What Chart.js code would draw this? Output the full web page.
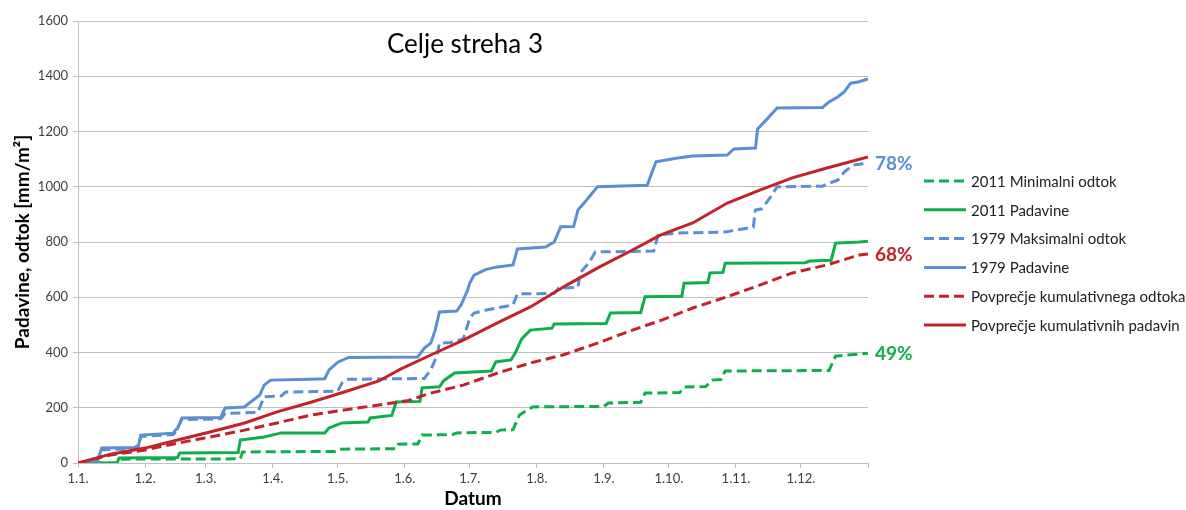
<!DOCTYPE html>
<html>
<head>
<meta charset="utf-8">
<script src="https://cdn.jsdelivr.net/npm/chart.js"></script>
<style>
  body { margin: 0; background: #fff; }
  canvas { display: block; }
</style>
</head>
<body>
<canvas id="graf" width="1186" height="510"></canvas>
<script>
// meje mesecev (dan v letu) in oznake osi x
const monthStarts = [0, 31, 59, 90, 120, 151, 181, 212, 243, 273, 304, 334, 365];
const monthLabels = ['1.1.', '1.2.', '1.3.', '1.4.', '1.5.', '1.6.', '1.7.', '1.8.', '1.9.', '1.10.', '1.11.', '1.12.', ''];
const yTicks = [0, 200, 400, 600, 800, 1000, 1200, 1400, 1600];

// 2011 Minimalni odtok
const min2011Days = [0, 19, 20, 75, 76, 119, 121, 147, 148, 157, 159, 173, 175, 193, 195, 201, 204, 210, 243, 245, 260, 262, 278, 280, 290, 293, 297, 299, 347, 350, 365];
const min2011 = [0, 0, 14, 15, 40, 42, 50, 52, 68, 69, 101, 103, 109, 111, 119, 121, 174, 203, 205, 217, 220, 253, 255, 275, 277, 300, 302, 333, 335, 387, 397];

// 2011 Padavine
const pad2011Days = [0, 18, 19, 46, 47, 74, 75, 86, 94, 114, 116, 122, 134, 135, 145, 147, 158, 159, 167, 169, 174, 191, 193, 200, 202, 205, 209, 219, 220, 244, 246, 260, 262, 279, 280, 291, 292, 298, 299, 336, 338, 348, 350, 361, 365];
const pad2011 = [0, 0, 18, 20, 36, 38, 83, 94, 109, 109, 127, 145, 148, 163, 172, 221, 223, 272, 276, 298, 326, 333, 366, 373, 398, 449, 481, 488, 503, 505, 543, 545, 602, 604, 651, 653, 688, 690, 723, 725, 731, 734, 796, 800, 803];

// 1979 Maksimalni odtok
const max1979Days = [0, 9, 11, 26, 28, 29, 44, 45, 48, 66, 68, 83, 86, 94, 96, 120, 122, 124, 160, 163, 166, 167, 172, 178, 181, 183, 190, 201, 203, 220, 222, 231, 232, 236, 239, 266, 268, 276, 299, 312, 313, 316, 320, 323, 344, 347, 351, 354, 358, 365];
const max1979 = [0, 8, 48, 52, 60, 96, 103, 112, 157, 160, 180, 183, 240, 243, 257, 260, 290, 303, 306, 337, 391, 434, 436, 449, 525, 543, 556, 572, 612, 614, 633, 636, 688, 724, 764, 767, 825, 832, 836, 854, 916, 920, 963, 1000, 1002, 1013, 1024, 1053, 1078, 1085];

// 1979 Padavine
const pad1979Days = [0, 9, 11, 26, 28, 29, 44, 45, 46, 48, 66, 67, 68, 77, 78, 81, 84, 86, 89, 107, 114, 116, 120, 125, 157, 160, 163, 165, 167, 175, 177, 180, 181, 183, 188, 193, 201, 203, 216, 220, 223, 229, 231, 235, 240, 263, 267, 277, 284, 300, 303, 313, 314, 318, 323, 344, 347, 351, 354, 357, 361, 365];
const pad1979 = [0, 10, 54, 56, 65, 101, 108, 119, 125, 163, 165, 185, 199, 203, 210, 228, 246, 282, 300, 303, 305, 337, 365, 382, 384, 416, 434, 480, 547, 550, 572, 626, 651, 680, 699, 709, 717, 775, 782, 800, 855, 856, 916, 952, 1000, 1005, 1090, 1104, 1111, 1115, 1137, 1140, 1209, 1242, 1285, 1287, 1307, 1325, 1343, 1375, 1380, 1390];

// Povprečje kumulativnega odtoka
const povOdtDays = [0, 15, 31, 46, 61, 77, 92, 108, 123, 139, 152, 163, 178, 194, 209, 224, 240, 255, 270, 284, 300, 315, 330, 346, 361, 365];
const povOdt = [0, 29, 47, 72, 94, 119, 145, 174, 192, 210, 225, 253, 282, 326, 362, 391, 434, 478, 518, 561, 602, 644, 688, 717, 753, 757];

// Povprečje kumulativnih padavin
const povPadDays = [0, 15, 31, 46, 61, 77, 92, 108, 123, 139, 149, 163, 178, 194, 209, 226, 241, 256, 269, 284, 300, 315, 330, 346, 365];
const povPad = [0, 32, 54, 83, 112, 145, 185, 221, 257, 297, 340, 391, 445, 508, 565, 645, 710, 770, 825, 869, 941, 988, 1032, 1068, 1108];

// odstotki ob koncu krivulj odtoka
const endLabels = ['49%', '78%', '68%'];

const modra = '#5a8fd3';
const zelena = '#0fae4c';
const rdeca = '#c3222b';

function tocke(dni, vrednosti) {
    return dni.map((d, i) => ({ x: d, y: vrednosti[i] }));
}

const crtkano = [10, 5];

const datasets = [
    { label: '2011 Minimalni odtok', data: tocke(min2011Days, min2011), borderColor: zelena, borderDash: crtkano, order: 6 },
    { label: '2011 Padavine', data: tocke(pad2011Days, pad2011), borderColor: zelena, borderDash: [], order: 5 },
    { label: '1979 Maksimalni odtok', data: tocke(max1979Days, max1979), borderColor: modra, borderDash: crtkano, order: 4 },
    { label: '1979 Padavine', data: tocke(pad1979Days, pad1979), borderColor: modra, borderDash: [], order: 3 },
    { label: 'Povprečje kumulativnega odtoka', data: tocke(povOdtDays, povOdt), borderColor: rdeca, borderDash: crtkano, order: 2 },
    { label: 'Povprečje kumulativnih padavin', data: tocke(povPadDays, povPad), borderColor: rdeca, borderDash: [], order: 1 }
];
datasets.forEach(ds => {
    ds.borderWidth = 3;
    ds.pointRadius = 0;
    ds.tension = 0;
    ds.fill = false;
});

// naslov, odstotki in legenda
const dodatki = {
    id: 'dodatki',
    afterDraw(chart) {
        const { ctx, chartArea, scales } = chart;
        ctx.save();

        ctx.font = '26px Lato';
        ctx.fillStyle = '#000';
        ctx.textAlign = 'center';
        ctx.textBaseline = 'alphabetic';
        ctx.fillText('Celje streha 3', chartArea.left + 387, 53);

        ctx.font = 'bold 19px Lato';
        ctx.textAlign = 'left';
        ctx.textBaseline = 'middle';
        [0, 2, 4].forEach((idx, k) => {
            const ds = chart.data.datasets[idx];
            const last = ds.data[ds.data.length - 1];
            ctx.fillStyle = ds.borderColor;
            ctx.fillText(endLabels[k], chartArea.right + 7, scales.y.getPixelForValue(last.y) + 1);
        });

        ctx.font = '15px Lato';
        chart.data.datasets.forEach((ds, i) => {
            const y = 181 + i * 28.8;
            ctx.strokeStyle = ds.borderColor;
            ctx.lineWidth = 3;
            ctx.setLineDash(ds.borderDash);
            ctx.beginPath();
            ctx.moveTo(924, y);
            ctx.lineTo(966, y);
            ctx.stroke();
            ctx.setLineDash([]);
            ctx.fillStyle = '#222';
            ctx.fillText(ds.label, 971, y + 1);
        });
        ctx.restore();
    }
};

const mreza = '#c0c0c0';

new Chart(document.getElementById('graf'), {
    type: 'line',
    data: { datasets: datasets },
    options: {
        responsive: false,
        animation: false,
        events: [],
        layout: { padding: { top: 21, right: 318, bottom: 0, left: 0 } },
        plugins: {
            legend: { display: false },
            tooltip: { enabled: false }
        },
        scales: {
            x: {
                type: 'linear',
                min: 0,
                max: 365,
                afterBuildTicks: scale => { scale.ticks = monthStarts.map(v => ({ value: v })); },
                afterFit: scale => { scale.height = 47; },
                ticks: {
                    autoSkip: false,
                    maxRotation: 0,
                    padding: 3,
                    color: '#404040',
                    font: { family: 'Lato', size: 13 },
                    callback: (v) => monthLabels[monthStarts.indexOf(v)]
                },
                grid: { drawOnChartArea: false, drawTicks: true, tickLength: 5, color: mreza },
                border: { display: true, color: mreza },
                title: {
                    display: true,
                    text: 'Datum',
                    color: '#000',
                    font: { family: 'Lato', size: 19, weight: 'bold' },
                    padding: { top: 0, bottom: 0 }
                }
            },
            y: {
                min: 0,
                max: 1600,
                afterBuildTicks: scale => { scale.ticks = yTicks.map(v => ({ value: v })); },
                afterFit: scale => { scale.width = 78; },
                ticks: {
                    padding: 5,
                    color: '#404040',
                    font: { family: 'Lato', size: 13 },
                    callback: (v) => String(v)
                },
                grid: { color: mreza, lineWidth: 1, tickLength: 5 },
                border: { display: true, color: mreza },
                title: {
                    display: true,
                    text: 'Padavine, odtok [mm/m²]',
                    color: '#000',
                    font: { family: 'Lato', size: 19, weight: 'bold' },
                    padding: { top: 11, bottom: 0 }
                }
            }
        }
    },
    plugins: [dodatki]
});
</script>
</body>
</html>
